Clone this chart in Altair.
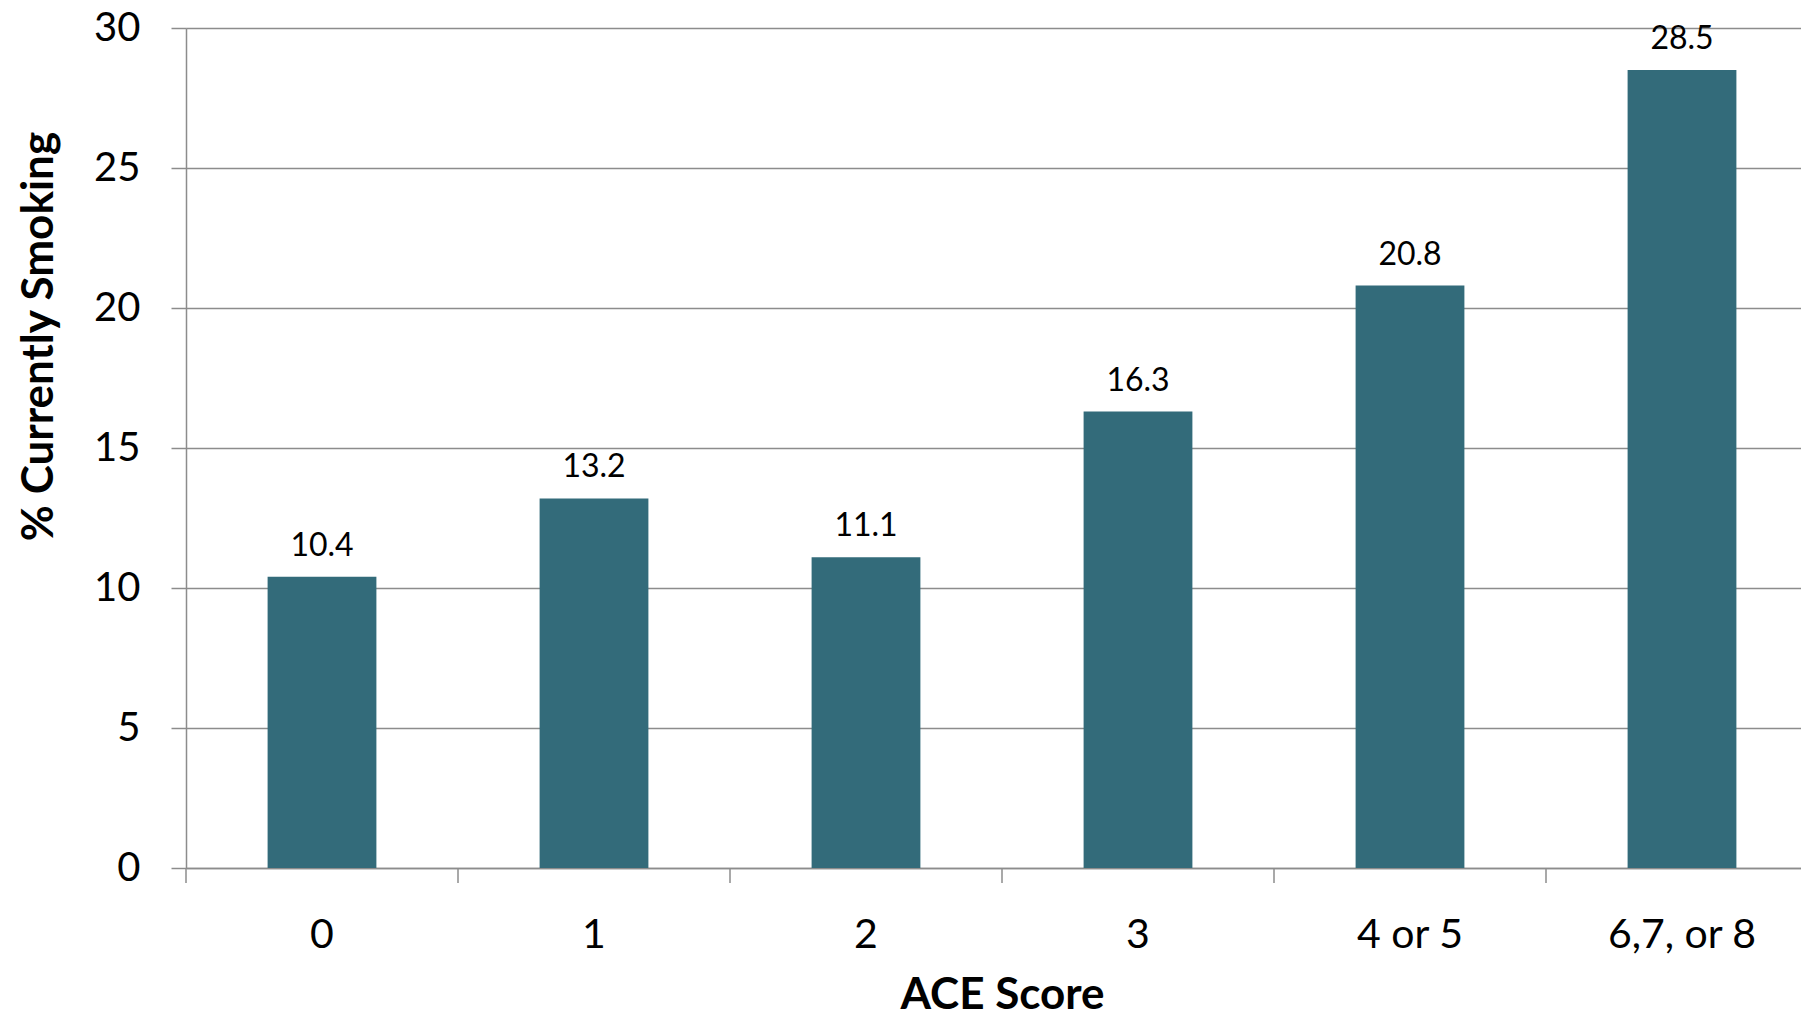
import altair as alt
import pandas as pd

categories = ["0", "1", "2", "3", "4 or 5", "6,7, or 8"]
values = [10.4, 13.2, 11.1, 16.3, 20.8, 28.5]
y_ticks = [0, 5, 10, 15, 20, 25, 30]

df = pd.DataFrame({"ace": categories, "pct": values})

W, H = 1615, 840
FONT = "Lato"
GRID = "#8c8c8c"
BAR = "#336b7a"


def x_enc(band_pos=None):
    kw = {}
    if band_pos is not None:
        kw["bandPosition"] = band_pos
    return alt.X(
        "ace:N",
        sort=categories,
        title="ACE Score",
        scale=alt.Scale(range=[0, 1632], paddingInner=0, paddingOuter=0),
        axis=alt.Axis(
            labelAngle=0,
            labelFont=FONT,
            labelFontSize=41,
            labelColor="black",
            labelPadding=32,
            tickSize=15,
            tickOpacity=0,
            domainColor=GRID,
            domainWidth=1.5,
            titleFont=FONT,
            titleFontSize=44,
            titleFontWeight="bold",
            titleColor="black",
            titleY=140,
            titleBaseline="alphabetic",
        ),
        **kw,
    )


y_enc = alt.Y(
    "pct:Q",
    scale=alt.Scale(domain=[0, 30], nice=False),
    title="% Currently Smoking",
    axis=alt.Axis(
        values=y_ticks,
        tickSize=15,
        tickColor=GRID,
        tickWidth=1.5,
        grid=True,
        gridColor=GRID,
        gridWidth=1.5,
        domainColor=GRID,
        domainWidth=1.5,
        labelFont=FONT,
        labelFontSize=40,
        labelColor="black",
        labelPadding=31,
        titleFont=FONT,
        titleFontSize=44,
        titleFontWeight="bold",
        titleColor="black",
        titleAngle=270,
        titleX=-134,
        titleY=308,
        titleAlign="center",
        titleBaseline="alphabetic",
    ),
)

base = alt.Chart(df)

bars = base.mark_bar(width={"band": 0.4}, color=BAR).encode(x=x_enc(), y=y_enc)

labels = base.mark_text(
    dy=-21, baseline="alphabetic", fontSize=32, font=FONT, color="black"
).encode(x=x_enc(), y=y_enc, text=alt.Text("pct:Q", format=".1f"))

ticks = base.mark_rule(color=GRID, strokeWidth=1.5).encode(
    x=x_enc(0), y=alt.value(H), y2=alt.value(H + 15)
)

chart = (
    alt.layer(bars, labels, ticks)
    .properties(
        width=W,
        height=H,
        autosize=alt.AutoSizeParams(type="none"),
        padding={"left": 178, "top": 20, "right": 0, "bottom": 143},
    )
    .configure_view(stroke=None)
    .configure(background="white")
)

chart.save("out.html", embed_options={"renderer": "svg", "actions": False})
